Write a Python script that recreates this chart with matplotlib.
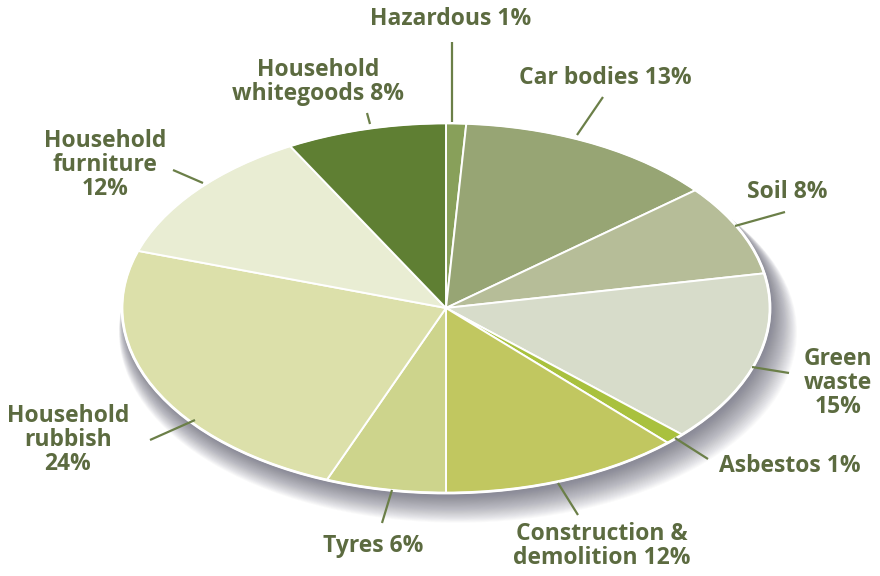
import numpy as np
import matplotlib
matplotlib.use("Agg")
import matplotlib.pyplot as plt
from matplotlib.patches import Ellipse

# waste composition, clockwise from 12 o'clock
categories = ["Hazardous", "Car bodies", "Soil", "Green waste", "Asbestos",
              "Construction & demolition", "Tyres", "Household rubbish",
              "Household furniture", "Household whitegoods"]
shares = [1, 13, 8, 15, 1, 12, 6, 24, 12, 8]
labels = ["Hazardous 1%", "Car bodies 13%", "Soil 8%", "Green\nwaste\n15%",
          "Asbestos 1%", "Construction &\ndemolition 12%", "Tyres 6%",
          "Household\nrubbish\n24%", "Household\nfurniture\n12%",
          "Household\nwhitegoods 8%"]
colors = ["#88a05a", "#97a574", "#b6bd98", "#d7dcca", "#a9c13e",
          "#c1c760", "#cdd48c", "#dce0aa", "#e9edd3", "#5f7f33"]

TEXT = "#5c6b40"
LINE = "#6b7f48"
CX, CY, RX, RY = 446, 308, 324, 185   # ellipse in pixels


def px(x, y):
    return (x - CX) / RX, (CY - y) / RY


# label centre, leader start (near text), leader end (on pie) in pixels
layout = [
    ((451, 19), (452, 42), (452, 122)),
    ((605, 78), (603, 97), (577, 135)),
    ((787, 192), (785, 212), (735, 226)),
    ((838, 383), (789, 373), (752, 367)),
    ((790, 466), (708, 459), (675, 438)),
    ((602, 546), (578, 515), (558, 483)),
    ((373, 546), (382, 523), (392, 490)),
    ((68, 440), (150, 440), (195, 420)),
    ((105, 165), (173, 170), (203, 183)),
    ((318, 82), (367, 113), (370, 124)),
]

fig = plt.figure(figsize=(8.8, 5.76), dpi=100)
ax = fig.add_axes([0, 0, 1, 1])

# soft drop shadow under the pie
n = 32
for i in range(n):
    ax.add_patch(Ellipse((0.006 + 0.001 * i, -0.015 - 0.0037 * i),
                         2 + 0.003 * i, 2 + 0.002 * i,
                         facecolor="#3c3c50", edgecolor="none",
                         alpha=0.022, zorder=0))

wedges, _ = ax.pie(shares, colors=colors, startangle=90, counterclock=False,
                   radius=1, frame=False,
                   wedgeprops=dict(edgecolor="white", linewidth=1.4))
for w in wedges:
    w.set_zorder(2)
ax.add_patch(Ellipse((0, 0), 2, 2, facecolor="none", edgecolor="white",
                     linewidth=2, zorder=3))

ax.set_xlim(-CX / RX, (880 - CX) / RX)
ax.set_ylim(-(576 - CY) / RY, CY / RY)
ax.set_aspect("auto")
ax.axis("off")

for lab, (tpos, p0, p1) in zip(labels, layout):
    x0, y0 = px(*p0)
    x1, y1 = px(*p1)
    ax.plot([x0, x1], [y0, y1], color=LINE, lw=1.6, zorder=4,
            solid_capstyle="butt")
    tx, ty = px(*tpos)
    ax.text(tx, ty, lab, ha="center", va="center", color=TEXT, fontsize=16.5,
            fontweight="bold", family="Open Sans", linespacing=1.0, zorder=5)

plt.savefig("out.png", dpi=100)
plt.close()
